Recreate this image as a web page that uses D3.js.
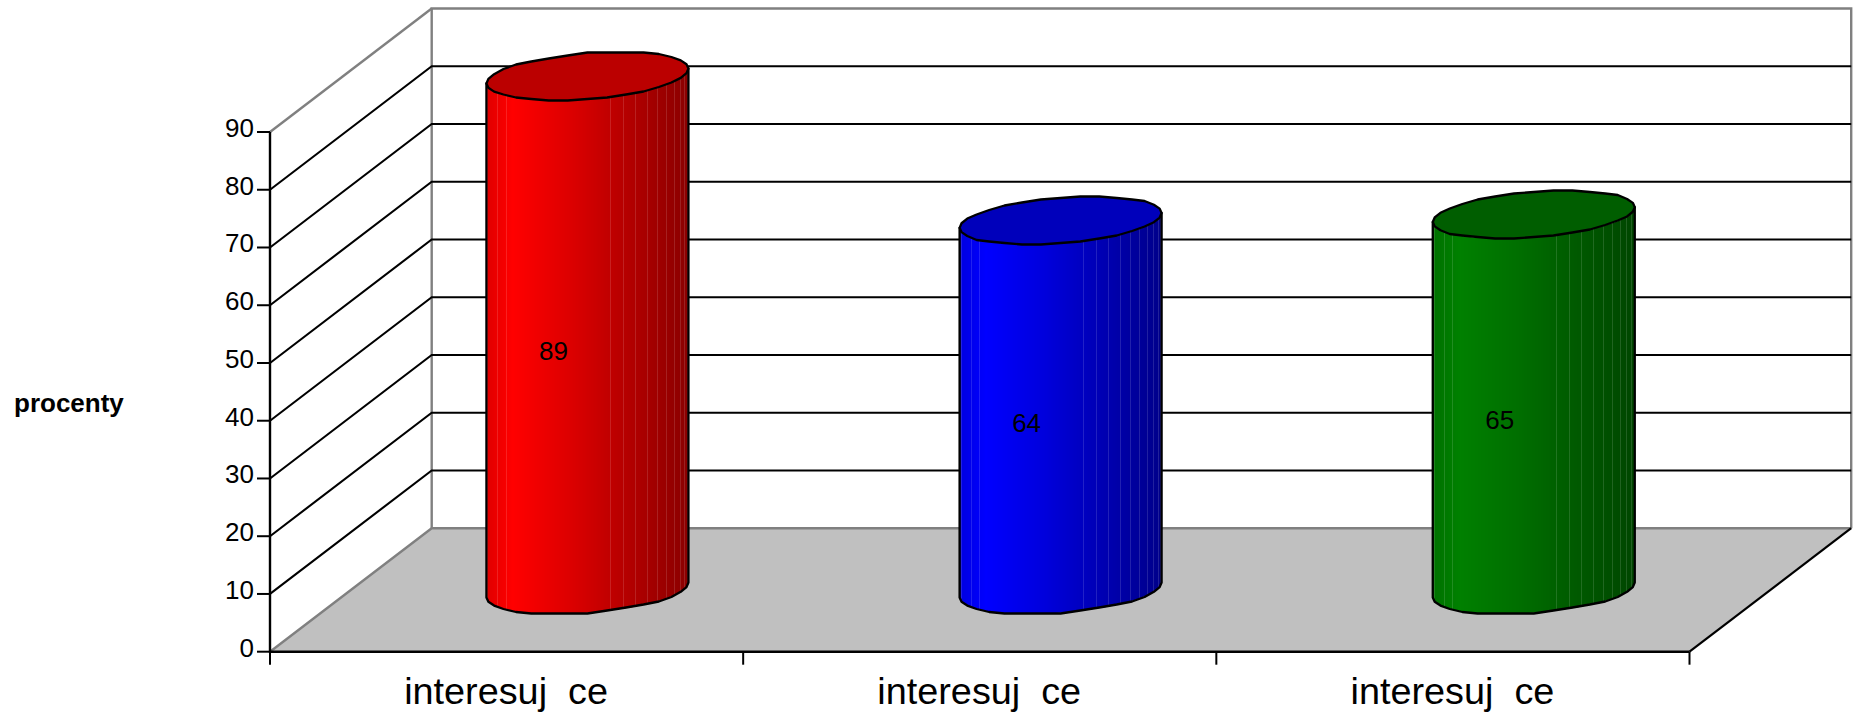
<!DOCTYPE html>
<html><head><meta charset="utf-8">
<script src="https://cdnjs.cloudflare.com/ajax/libs/d3/7.8.5/d3.min.js"></script>
<style>html,body{margin:0;padding:0;background:#fff}svg{display:block}text{font-family:"Liberation Sans",Arial,sans-serif;fill:#000}</style>
</head><body><svg id="c" width="1862" height="716"></svg>
<script>
const categories=["interesuj  ce","interesuj  ce","interesuj  ce"];
const values=[89,64,65];
const yTicks=[0,10,20,30,40,50,60,70,80,90];
const sideBright=["#ff0000","#0000ff","#008000"];
const sideDark=["#8a0000","#00008a","#004600"];
const topFill=["#bb0000","#0000bb","#005e00"];

const svg=d3.select("#c");
const fx=d3.scaleLinear().domain([0,3]).range([270,1689.5]);
const fy=d3.scaleLinear().domain([0,90]).range([651.7,132]);
const depth=[161.7,-123.5];
const B=(x,v)=>[fx(x)+depth[0],fy(v)+depth[1]];
const F=(x,v)=>[fx(x),fy(v)];
const line=d3.line();
const poly=p=>line(p)+"Z";

svg.append("path").attr("d",poly([F(0,0),F(3,0),B(3,0),B(0,0)])).attr("fill","#c0c0c0");
const grey="#808080";
svg.append("path").attr("d",line([B(0,0),B(0,90),B(3,90),B(3,0)])).attr("fill","none").attr("stroke",grey).attr("stroke-width",2.4);
svg.append("path").attr("d",line([F(0,90),B(0,90)])).attr("fill","none").attr("stroke",grey).attr("stroke-width",2.4);
svg.append("path").attr("d",line([F(0,0),B(0,0),B(3,0)])).attr("fill","none").attr("stroke",grey).attr("stroke-width",2.4);
yTicks.filter(v=>v>0&&v<90).forEach(v=>{
  svg.append("path").attr("d",line([F(0,v),B(0,v),B(3,v)])).attr("fill","none").attr("stroke","#000").attr("stroke-width",2.1);
});
svg.append("path").attr("d",line([F(3,0),B(3,0)])).attr("fill","none").attr("stroke","#000").attr("stroke-width",2.2);
svg.append("path").attr("d",line([F(0,90),F(0,0),F(3,0)])).attr("fill","none").attr("stroke","#000").attr("stroke-width",2.4);
yTicks.forEach(v=>{
  const p=F(0,v);
  svg.append("path").attr("d",line([[p[0]-13,p[1]],p])).attr("stroke","#000").attr("stroke-width",2);
  svg.append("text").attr("x",p[0]-16).attr("y",p[1]+5).attr("text-anchor","end").attr("font-size",26).text(v);
});
d3.range(4).forEach(i=>{
  const p=F(i,0);
  svg.append("path").attr("d",line([p,[p[0],p[1]+13]])).attr("stroke","#000").attr("stroke-width",2);
});
categories.forEach((c,i)=>{
  svg.append("text").attr("x",fx(i+.5)-0.5).attr("y",704).attr("text-anchor","middle").attr("font-size",37.8).style("white-space","pre").text(c);
});
svg.append("text").attr("x",14).attr("y",412).attr("font-size",26).attr("font-weight","bold").text("procenty");

// cylinders
const R=96, dHalf=[31.4,-24];
const rad=d=>d*Math.PI/180;
values.forEach((val,i)=>{
  const cx=fx(i+.5)+depth[0]/2;
  const bc=fy(0)+depth[1]/2;
  const tc=fy(val)+depth[1]/2;
  const W=Math.hypot(R,dHalf[0]);
  const t0=Math.atan2(dHalf[0],R), tL=t0+Math.PI;
  const pt=(t,cy)=>[cx+R*Math.cos(t)+dHalf[0]*Math.sin(t),cy+dHalf[1]*Math.sin(t)];
  const ang=a=>tL+rad(a);
  const color=d3.scaleLinear().domain([0,.13,.42,.62,1]).range([
    d3.interpolateRgb(sideBright[i],"#000")(.12),
    sideBright[i],
    d3.interpolateRgb(sideBright[i],sideDark[i])(.3),
    d3.interpolateRgb(sideBright[i],sideDark[i])(.55),
    sideDark[i]]);
  const clipId="cyl"+i;
  const sil=[...d3.range(0,181,3).map(a=>pt(ang(a),bc)),...d3.range(180,-1,-3).map(a=>pt(ang(a),tc))];
  svg.append("clipPath").attr("id",clipId).append("path").attr("d",poly(sil));
  const g=svg.append("g").attr("clip-path",`url(#${clipId})`);
  const x0=Math.floor(cx-W), x1=Math.ceil(cx+W);
  d3.range(x0,x1).forEach(x=>{
    g.append("rect").attr("x",x).attr("y",tc-30).attr("width",1.2).attr("height",bc-tc+60)
      .attr("fill",color((x+.5-(cx-W))/(2*W)));
  });
  const seams=[8,27,36,...d3.range(103,180,7.6)];
  seams.forEach(a=>{
    const x=Math.round(pt(ang(a),0)[0])+.5;
    g.append("path").attr("d",line([[x,tc-30],[x,bc+30]])).attr("stroke","#fff").attr("stroke-opacity",.13).attr("stroke-width",1);
  });
  // polygonal outlines; only the gentle long sides are snapped, giving the faint stepping of the original
  const snap=(p,a)=>{const s=Math.abs(Math.sin(rad(a)));return s<.5?p:[p[0],Math.round(p[1]/1.5)*1.5];};
  const stepA=180/16;
  const front=d3.range(0,180+1,stepA);
  const bot=front.map(a=>snap(pt(ang(a),bc),a));
  const outline=[...bot,pt(t0,tc),pt(tL,tc)];
  svg.append("path").attr("d",poly(outline)).attr("fill","none").attr("stroke","#000").attr("stroke-width",2.3).attr("stroke-linejoin","round");
  const topPts=d3.range(0,360,stepA).map(a=>snap(pt(ang(a),tc),a));
  svg.append("path").attr("d",poly(topPts)).attr("fill",topFill[i]).attr("stroke","#000").attr("stroke-width",2.3).attr("stroke-linejoin","round");
  svg.append("text").attr("x",cx-34).attr("y",(tc+bc)/2+27).attr("text-anchor","middle").attr("font-size",26).text(val);
});
</script></body></html>
